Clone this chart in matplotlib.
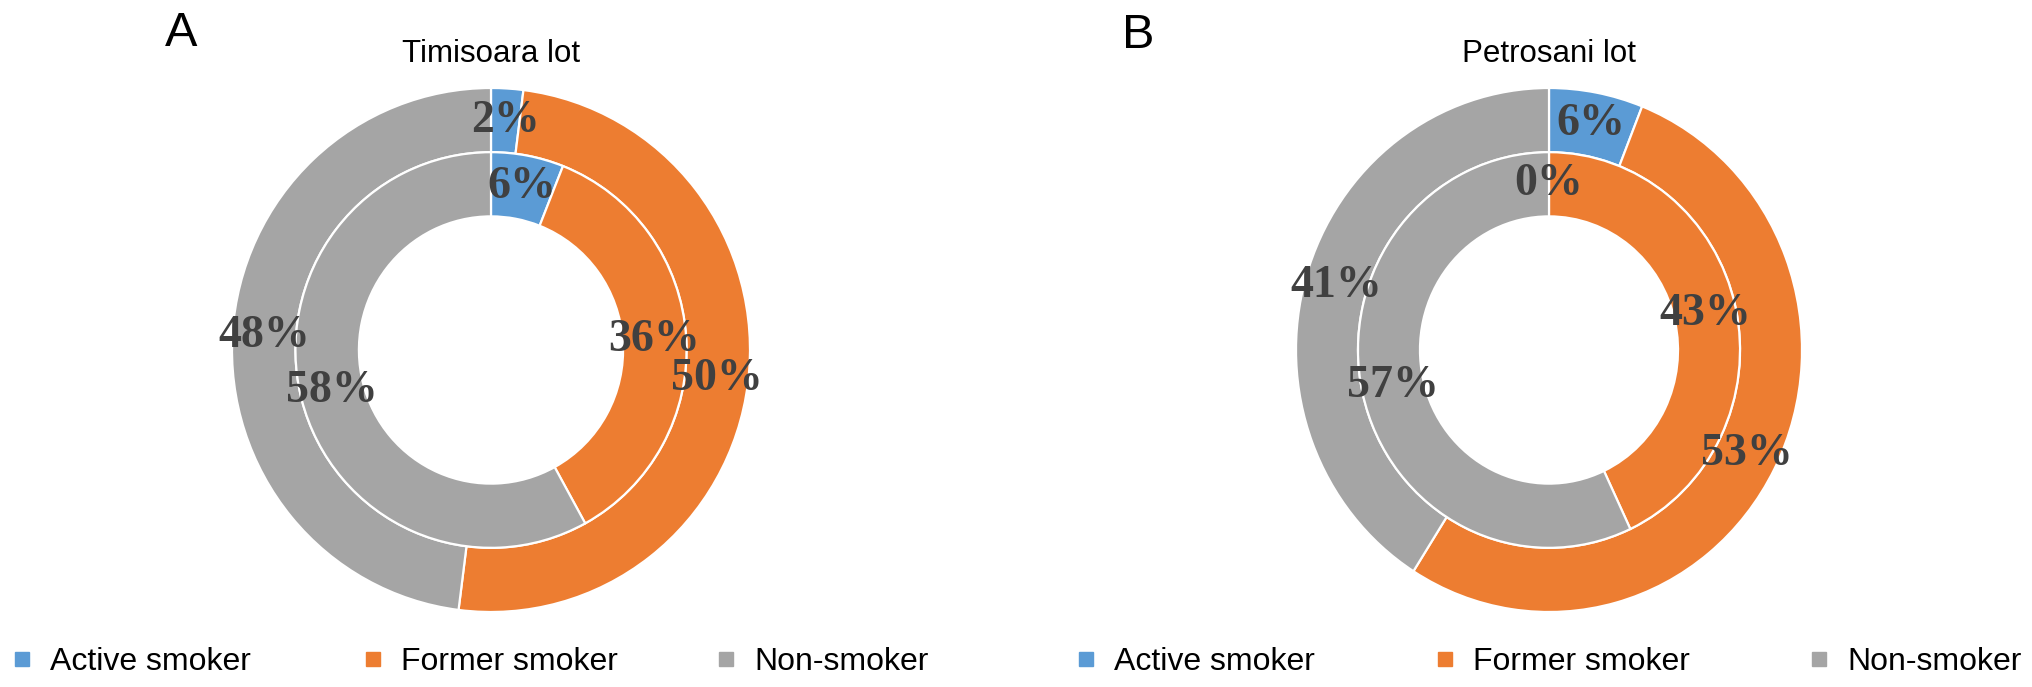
import matplotlib.pyplot as plt
from matplotlib.lines import Line2D

categories = ["Active smoker", "Former smoker", "Non-smoker"]
colors = ["#5B9BD5", "#ED7D31", "#A5A5A5"]  # excel blue, orange, gray

panel_letters = ["A", "B"]
panel_titles = ["Timisoara lot", "Petrosani lot"]

# outer ring / inner ring percentages for each lot
timisoara_outer = [2, 50, 48]
timisoara_inner = [6, 36, 58]
petrosani_outer = [6, 53, 41]
petrosani_inner = [0, 43, 57]

W, H = 2032, 687
fig = plt.figure(figsize=(W / 100, H / 100), dpi=100)

# pixel layout: donut centre and half sizes
centres = [(491, 350), (1549, 350)]
half_w = [259, 253]
half_h = 262
letter_pos = [(181, 34), (1138, 35)]
legend_left = [[12, 363, 716], [1076, 1435, 1809]]

ring_w = 0.245
inner_r = 1 - ring_w
label_font = dict(family="Liberation Serif", weight="bold", size=33, color="#404040")


def draw_donut(ax, outer, inner):
    pct = lambda p: f"{p:.0f}%"
    wp = dict(width=ring_w, edgecolor="white", linewidth=1.6)
    _, _, t1 = ax.pie(outer, radius=1.0, colors=colors, startangle=90, counterclock=False,
                      wedgeprops=wp, autopct=pct, pctdistance=1 - ring_w / 2)
    _, _, t2 = ax.pie(inner, radius=inner_r, colors=colors, startangle=90, counterclock=False,
                      wedgeprops=wp, autopct=pct, pctdistance=(inner_r - ring_w / 2) / inner_r)
    for t in list(t1) + list(t2):
        t.set(**label_font)
    ax.set_aspect("auto")
    ax.set_xlim(-1, 1)
    ax.set_ylim(-1, 1)
    ax.axis("off")


data = [(timisoara_outer, timisoara_inner), (petrosani_outer, petrosani_inner)]
handles = [Line2D([], [], marker="s", linestyle="none", color=c, markersize=10) for c in colors]

for i, (outer, inner) in enumerate(data):
    cx, cy = centres[i]
    ax = fig.add_axes([(cx - half_w[i]) / W, (H - cy - half_h) / H, 2 * half_w[i] / W, 2 * half_h / H])
    draw_donut(ax, outer, inner)

    fig.text(cx / W, 1 - 54 / H, panel_titles[i], ha="center", va="center",
             fontsize=22.5, family="Liberation Sans")
    lx, ly = letter_pos[i]
    fig.text(lx / W, 1 - ly / H, panel_letters[i], ha="center", va="center",
             fontsize=35, family="Liberation Sans")

    for h, lab, x in zip(handles, categories, legend_left[i]):
        fig.legend(handles=[h], labels=[lab], loc="center left",
                   bbox_to_anchor=(x / W, 1 - 662 / H), frameon=False,
                   prop=dict(family="Liberation Sans", size=23),
                   borderpad=0, borderaxespad=0, handlelength=0.6, handletextpad=0.6)

fig.savefig("out.png", dpi=100)
